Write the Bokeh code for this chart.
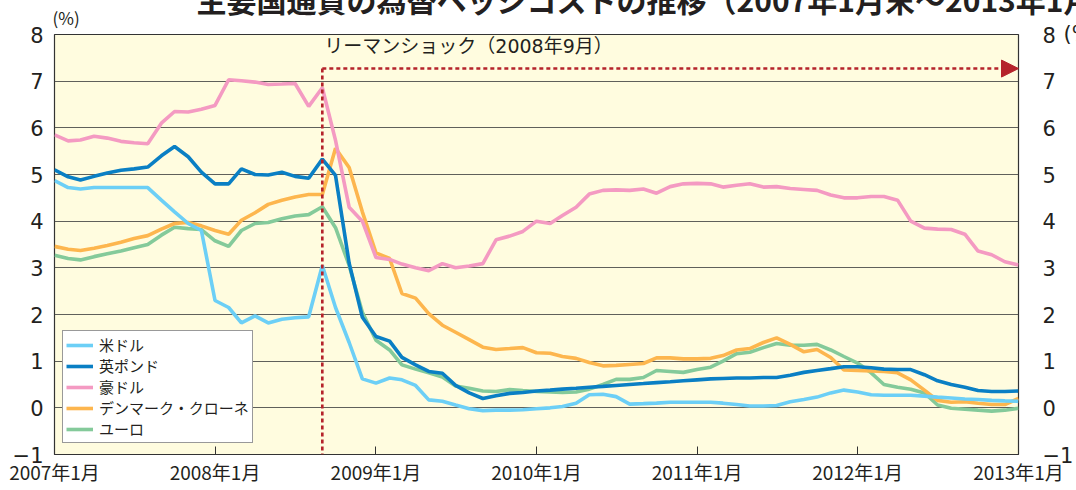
import pandas as pd
from bokeh.plotting import figure
from bokeh.models import (Range1d, LinearAxis, FixedTicker, Legend, LegendItem,
                          Label, Arrow, NormalHead, Title)
from bokeh.embed import file_html
from bokeh.resources import INLINE

# ---------------- data ----------------
months = pd.date_range("2007-01-01", "2013-01-01", freq="MS")

usd = [4.87, 4.72, 4.69, 4.72, 4.72, 4.72, 4.72, 4.72, 4.45, 4.20, 3.95, 3.80,
       2.30, 2.15, 1.82, 1.97, 1.82, 1.90, 1.93, 1.95, 3.05, 2.15, 1.40, 0.62,
       0.53, 0.64, 0.60, 0.48, 0.17, 0.14, 0.06, -0.02, -0.06, -0.05, -0.05, -0.04,
       -0.02, 0.00, 0.03, 0.10, 0.28, 0.29, 0.24, 0.08, 0.09, 0.10, 0.12, 0.12,
       0.12, 0.12, 0.10, 0.07, 0.04, 0.04, 0.05, 0.13, 0.18, 0.23, 0.32, 0.38,
       0.34, 0.28, 0.27, 0.27, 0.27, 0.25, 0.23, 0.21, 0.19, 0.18, 0.16, 0.15,
       0.14]
gbp = [5.10, 4.95, 4.88, 4.96, 5.03, 5.09, 5.12, 5.16, 5.40, 5.60, 5.38, 5.05,
       4.80, 4.80, 5.12, 5.00, 4.99, 5.05, 4.96, 4.92, 5.33, 4.98, 3.10, 1.94,
       1.53, 1.43, 1.08, 0.92, 0.78, 0.74, 0.48, 0.32, 0.20, 0.26, 0.31, 0.33,
       0.36, 0.38, 0.40, 0.42, 0.44, 0.46, 0.48, 0.50, 0.52, 0.54, 0.56, 0.58,
       0.60, 0.62, 0.63, 0.64, 0.64, 0.65, 0.65, 0.70, 0.76, 0.80, 0.84, 0.88,
       0.88, 0.86, 0.83, 0.82, 0.82, 0.71, 0.58, 0.50, 0.44, 0.37, 0.35, 0.35,
       0.36]
aud = [5.85, 5.72, 5.74, 5.82, 5.78, 5.71, 5.68, 5.66, 6.10, 6.35, 6.34, 6.40,
       6.48, 7.03, 7.01, 6.98, 6.93, 6.94, 6.95, 6.46, 6.86, 5.73, 4.30, 4.00,
       3.22, 3.18, 3.08, 3.00, 2.94, 3.09, 3.00, 3.04, 3.09, 3.60, 3.68, 3.78,
       4.00, 3.95, 4.12, 4.30, 4.58, 4.66, 4.67, 4.66, 4.69, 4.60, 4.74, 4.80,
       4.81, 4.80, 4.73, 4.77, 4.80, 4.73, 4.74, 4.70, 4.68, 4.66, 4.56, 4.50,
       4.50, 4.53, 4.53, 4.45, 4.00, 3.85, 3.83, 3.82, 3.72, 3.36, 3.28, 3.13,
       3.06]
dkk = [3.46, 3.40, 3.37, 3.42, 3.48, 3.55, 3.63, 3.69, 3.83, 3.95, 3.97, 3.90,
       3.80, 3.72, 4.02, 4.18, 4.36, 4.45, 4.52, 4.57, 4.57, 5.56, 5.15, 4.20,
       3.32, 3.20, 2.45, 2.35, 2.02, 1.77, 1.62, 1.46, 1.30, 1.25, 1.27, 1.29,
       1.18, 1.17, 1.10, 1.06, 0.97, 0.90, 0.91, 0.93, 0.95, 1.07, 1.07, 1.05,
       1.05, 1.06, 1.12, 1.24, 1.27, 1.40, 1.50, 1.36, 1.20, 1.25, 1.08, 0.81,
       0.80, 0.79, 0.78, 0.75, 0.60, 0.38, 0.16, 0.12, 0.13, 0.10, 0.07, 0.07,
       0.20]
eur = [3.27, 3.20, 3.17, 3.24, 3.30, 3.36, 3.43, 3.50, 3.70, 3.87, 3.84, 3.82,
       3.58, 3.46, 3.80, 3.95, 3.97, 4.05, 4.11, 4.14, 4.31, 3.86, 3.05, 2.05,
       1.45, 1.24, 0.92, 0.83, 0.75, 0.66, 0.47, 0.42, 0.36, 0.35, 0.39, 0.37,
       0.35, 0.34, 0.33, 0.34, 0.40, 0.50, 0.61, 0.61, 0.65, 0.80, 0.78, 0.76,
       0.82, 0.87, 1.00, 1.16, 1.19, 1.29, 1.38, 1.34, 1.34, 1.36, 1.24, 1.10,
       0.96, 0.75, 0.50, 0.44, 0.40, 0.32, 0.06, -0.01, -0.03, -0.05, -0.07, -0.05,
       -0.01]

series_names = ["米ドル", "英ポンド", "豪ドル", "デンマーク・クローネ", "ユーロ"]
tick_years = ["2007-01-01", "2008-01-01", "2009-01-01", "2010-01-01",
              "2011-01-01", "2012-01-01", "2013-01-01"]
tick_labels = ["2007年1月", "2008年1月", "2009年1月", "2010年1月",
               "2011年1月", "2012年1月", "2013年1月"]
y_ticks = [-1, 0, 1, 2, 3, 4, 5, 6, 7, 8]
lehman_date = "2008-09-01"
lehman_text = "リーマンショック（2008年9月）"
title_text = "主要国通貨の為替ヘッジコストの推移（2007年1月末～2013年1月末）"
unit_text = "(%)"

# ---------------- styling ----------------
FONT = "Noto Sans CJK JP"
NUMFONT = "DejaVu Sans, Noto Sans CJK JP"
TXT = "#231f20"
RED = "#b5232b"
colors = {"usd": "#6ccff6", "gbp": "#0a7fc4", "aud": "#f49ac2",
          "dkk": "#fdb64e", "eur": "#84ca9a"}
SHIFT = 30  # part of the canvas hidden above the page top (title is cut there)

def ms(d):
    return int(pd.Timestamp(d).timestamp() * 1000)

x0, x1 = ms(months[0]), ms(months[-1])

p = figure(width=1076, height=490 + SHIFT, x_axis_type="datetime",
           x_range=Range1d(x0, x1), y_range=Range1d(-1, 8),
           output_backend="svg", toolbar_location=None,
           min_border_left=54, min_border_right=56,
           min_border_top=34 + SHIFT, min_border_bottom=36,
           margin=(-SHIFT, 0, 0, 0))
p.background_fill_color = "#fffcdf"
p.border_fill_color = "white"
p.outline_line_color = "#333333"
p.outline_line_width = 1.2

# grid
p.xgrid.visible = False
p.ygrid.ticker = FixedTicker(ticks=y_ticks)
p.ygrid.grid_line_color = "#444444"
p.ygrid.grid_line_alpha = 0.85
p.ygrid.grid_line_width = 1.2

# x axis
xa = p.xaxis[0]
tick_ms = [ms(t) for t in tick_years]
xa.ticker = FixedTicker(ticks=tick_ms)
xa.major_label_overrides = {t: lab for t, lab in zip(tick_ms, tick_labels)}
xa.axis_line_color = None
xa.major_tick_in = 8
xa.major_tick_out = 0
xa.major_tick_line_color = "#333333"
xa.minor_tick_line_color = None
xa.major_label_standoff = 3
xa.major_label_text_font = FONT
xa.major_label_text_font_size = "19px"
xa.major_label_text_color = TXT

# y axes
ya = p.yaxis[0]
ra = LinearAxis()
p.add_layout(ra, "right")
for ax, st in ((ya, 11), (ra, 24)):
    ax.ticker = FixedTicker(ticks=y_ticks)
    ax.major_label_overrides = {-1: "−1"}
    ax.axis_line_color = None
    ax.major_tick_in = 0
    ax.major_tick_out = 0
    ax.minor_tick_line_color = None
    ax.major_label_standoff = st
    ax.major_label_text_font = NUMFONT
    ax.major_label_text_font_size = "21px"
    ax.major_label_text_color = TXT

# lines
r_eur = p.line(months, eur, line_color=colors["eur"], line_width=3.6)
r_dkk = p.line(months, dkk, line_color=colors["dkk"], line_width=3.6)
r_aud = p.line(months, aud, line_color=colors["aud"], line_width=3.6)
r_usd = p.line(months, usd, line_color=colors["usd"], line_width=3.6)
r_gbp = p.line(months, gbp, line_color=colors["gbp"], line_width=3.6)

# Lehman annotation
lx = ms(lehman_date)
level = 7.27
p.add_layout(Arrow(end=None, x_start=lx, y_start=level, x_end=lx, y_end=-1,
                   line_color=RED, line_width=2.6, line_dash="4 3"))
p.add_layout(Arrow(end=NormalHead(size=17, fill_color=RED, line_color=RED, line_width=1),
                   x_start=lx, y_start=level, x_end=x1, y_end=level,
                   line_color=RED, line_width=2.6, line_dash="4 3"))
p.add_layout(Label(x=lx, y=7.76, x_offset=2, text=lehman_text,
                   text_font=NUMFONT, text_font_size="19px", text_color=TXT,
                   text_baseline="middle"))

# titles in the "above" panel: main title (outermost), then units
p.title.text = title_text
p.title.align = "left"
p.title.offset = 142
p.title.standoff = -42
p.title.vertical_align = "bottom"
p.title.text_font = FONT
p.title.text_font_size = "30px"
p.title.text_font_style = "bold"
p.title.text_color = TXT

# right unit label (closest to the frame, level with the "8" tick label)
p.add_layout(Title(text=unit_text, align="left", offset=1009, standoff=-24,
                   text_font=NUMFONT, text_font_size="21px", text_font_style="normal",
                   text_color=TXT, vertical_align="middle"), "above")
# left unit label above the left axis
p.add_layout(Title(text=unit_text, align="left", offset=-2, standoff=6,
                   text_font=FONT, text_font_size="17px", text_font_style="normal",
                   text_color=TXT, vertical_align="bottom"), "above")

# legend
items = [LegendItem(label=series_names[0], renderers=[r_usd]),
         LegendItem(label=series_names[1], renderers=[r_gbp]),
         LegendItem(label=series_names[2], renderers=[r_aud]),
         LegendItem(label=series_names[3], renderers=[r_dkk]),
         LegendItem(label=series_names[4], renderers=[r_eur])]
legend = Legend(items=items, location=(8, 11), margin=0, padding=3, spacing=-2,
                glyph_width=27, glyph_height=14, label_height=14, label_standoff=6,
                label_text_font=FONT, label_text_font_size="15px",
                label_text_line_height=0.75,
                label_text_color=TXT, border_line_color="#333333",
                border_line_width=1, background_fill_color="white",
                background_fill_alpha=1)
p.add_layout(legend)

open("out.html", "w").write(file_html(p, INLINE))
